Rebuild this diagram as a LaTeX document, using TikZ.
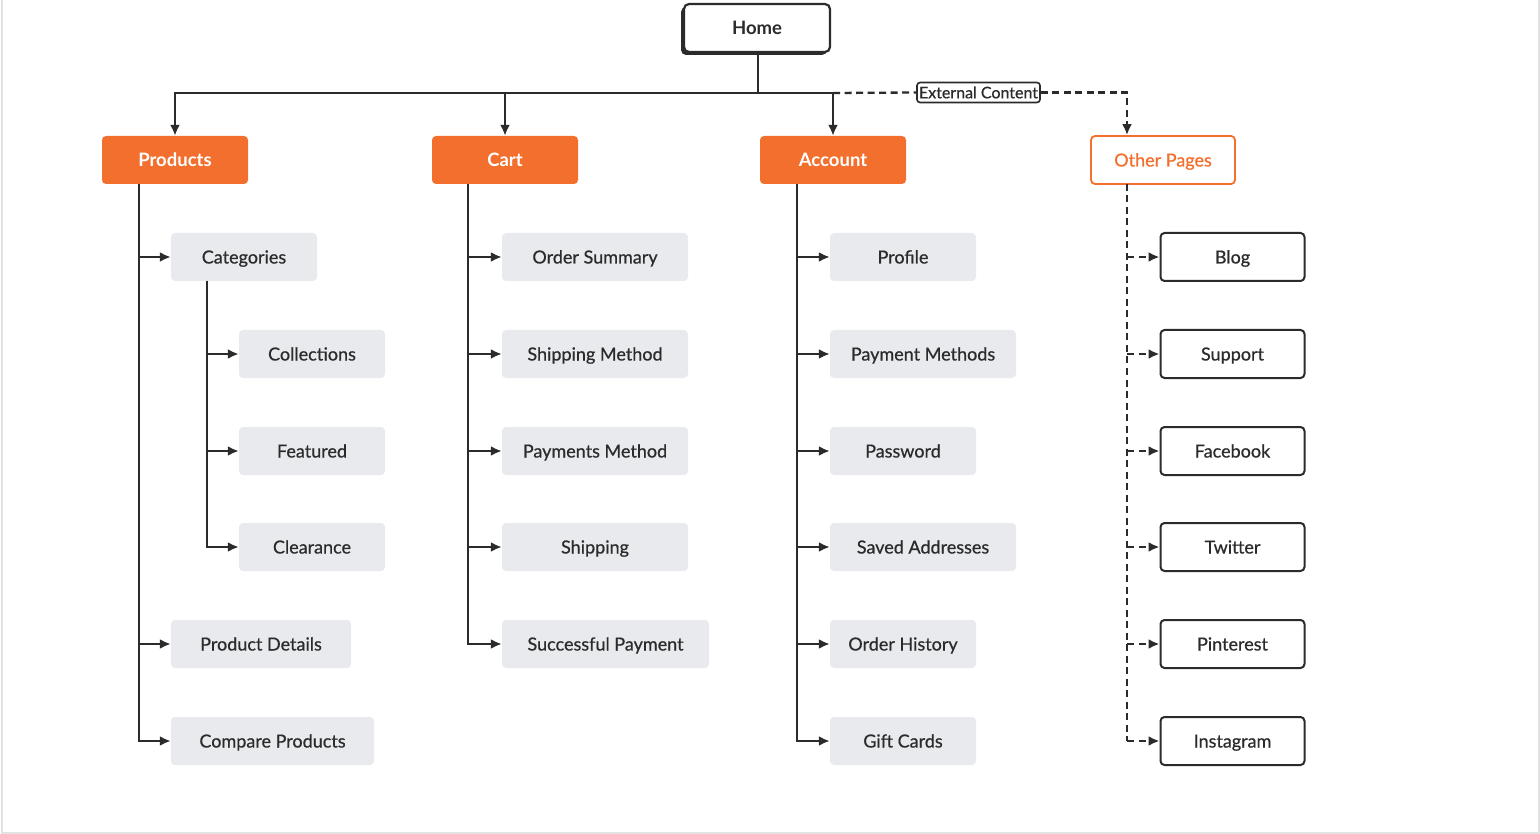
\documentclass[tikz,border=0pt]{standalone}
\usepackage{fontspec}
\setmainfont{Lato}
\newfontfamily\medfont[FakeBold=0.6]{Lato}
\usetikzlibrary{arrows.meta}
\definecolor{orng}{HTML}{F26F2E}
\definecolor{gboxc}{HTML}{E8EAED}
\definecolor{txt}{HTML}{2B2B2B}
\definecolor{frame}{HTML}{E2E2E2}
\begin{document}
\begin{tikzpicture}[x=1pt,y=-1pt,
  base/.style={rounded corners=4pt, minimum height=48pt, inner sep=0pt, text height=13pt, text depth=0pt, font=\medfont\fontsize{18}{20}\selectfont, text=txt},
  obox/.style={base, fill=orng, text=white, font=\fontsize{18.5}{20}\selectfont\bfseries, minimum width=146pt},
  wobox/.style={base, fill=white, draw=orng, line width=1.8pt, text=orng, minimum width=144pt},
  gbox/.style={base, fill=gboxc},
  wbox/.style={base, fill=white, draw=txt, line width=2pt, minimum width=144pt},
  conn/.style={line width=2.3pt, draw=txt, -{Latex[length=11pt,width=10pt]}},
  dconn/.style={conn, dash pattern=on 7pt off 4.5pt},
  plain/.style={line width=2.3pt, draw=txt},
  dplain/.style={plain, dash pattern=on 7pt off 4.5pt}
]
\useasboundingbox (0,0) rectangle (1540,834);
\draw[frame, line width=2pt] (1.5,0) -- (1.5,832.5) -- (1538.5,832.5) -- (1538.5,0);

% Home
\node[base, fill=txt, minimum width=146pt, minimum height=48pt, rounded corners=5pt] (homesh) at (754,31) {};
\node[base, fill=white, draw=txt, line width=2.2pt, minimum width=146pt, minimum height=48pt, rounded corners=5pt, font=\fontsize{18.5}{20}\selectfont\bfseries] (home) at (757,28) {Home};

% level 1
\node[obox] (prod) at (175,160) {Products};
\node[obox] (cart) at (505,160) {Cart};
\node[obox] (acct) at (833,160) {Account};
\node[wobox] (other) at (1163,160) {Other Pages};

\coordinate (hub) at (758,93);
\draw[plain] (home.south -| hub) -- (hub);
\draw[conn] (hub) -| (prod.north);
\draw[conn] (hub) -| (cart.north);
\draw[conn] (hub) -| (acct.north);
\node[draw=txt, fill=white, line width=1.6pt, rounded corners=3pt, inner xsep=2pt, inner ysep=4pt, font=\medfont\fontsize{16}{18}\selectfont, text=txt] (ext) at (978.5,92.5) {External Content};
\draw[dplain] (acct.north |- hub) -- (ext.west);
\draw[dconn] (ext.east) -| ([xshift=-36pt]other.north);

% Products
\node[gbox, minimum width=146pt] (cat) at (244,257) {Categories};
\node[gbox, minimum width=146pt] (coll) at (312,354) {Collections};
\node[gbox, minimum width=146pt] (feat) at (312,451) {Featured};
\node[gbox, minimum width=146pt] (clear) at (312,547) {Clearance};
\node[gbox, minimum width=180pt] (pdet) at (261,644) {Product Details};
\node[gbox, minimum width=203pt] (comp) at (272.5,741) {Compare Products};
\coordinate (ptr) at (139,184);
\draw[plain] (ptr) -- (ptr |- comp.west);
\draw[conn] (ptr) |- (cat.west);
\draw[conn] (ptr) |- (pdet.west);
\draw[conn] (ptr) |- (comp.west);
\coordinate (ctr) at (207,281);
\draw[plain] (ctr) -- (ctr |- clear.west);
\draw[conn] (ctr) |- (coll.west);
\draw[conn] (ctr) |- (feat.west);
\draw[conn] (ctr) |- (clear.west);

% Cart
\node[gbox, minimum width=186pt] (osum) at (595,257) {Order Summary};
\node[gbox, minimum width=186pt] (smeth) at (595,354) {Shipping Method};
\node[gbox, minimum width=186pt] (pmeth) at (595,451) {Payments Method};
\node[gbox, minimum width=186pt] (ship) at (595,547) {Shipping};
\node[gbox, minimum width=207pt] (succ) at (605.5,644) {Successful Payment};
\coordinate (cartr) at (468,184);
\draw[plain] (cartr) -- (cartr |- succ.west);
\draw[conn] (cartr) |- (osum.west);
\draw[conn] (cartr) |- (smeth.west);
\draw[conn] (cartr) |- (pmeth.west);
\draw[conn] (cartr) |- (ship.west);
\draw[conn] (cartr) |- (succ.west);

% Account
\node[gbox, minimum width=146pt] (prof) at (903,257) {Profile};
\node[gbox, minimum width=186pt] (paym) at (923,354) {Payment Methods};
\node[gbox, minimum width=146pt] (pass) at (903,451) {Password};
\node[gbox, minimum width=186pt] (saved) at (923,547) {Saved Addresses};
\node[gbox, minimum width=146pt] (ohist) at (903,644) {Order History};
\node[gbox, minimum width=146pt] (gift) at (903,741) {Gift Cards};
\coordinate (atr) at (797,184);
\draw[plain] (atr) -- (atr |- gift.west);
\draw[conn] (atr) |- (prof.west);
\draw[conn] (atr) |- (paym.west);
\draw[conn] (atr) |- (pass.west);
\draw[conn] (atr) |- (saved.west);
\draw[conn] (atr) |- (ohist.west);
\draw[conn] (atr) |- (gift.west);

% Other pages
\node[wbox] (blog) at (1232.5,257) {Blog};
\node[wbox] (supp) at (1232.5,354) {Support};
\node[wbox] (fb) at (1232.5,451) {Facebook};
\node[wbox] (tw) at (1232.5,547) {Twitter};
\node[wbox] (pin) at (1232.5,644) {Pinterest};
\node[wbox] (insta) at (1232.5,741) {Instagram};
\coordinate (otr) at (1127,184);
\draw[dplain] (otr) -- (otr |- insta.west);
\foreach \n in {blog,supp,fb,tw,pin,insta}{
  \draw[dconn] (otr |- \n.west) -- (\n.west);
}
\end{tikzpicture}
\end{document}
